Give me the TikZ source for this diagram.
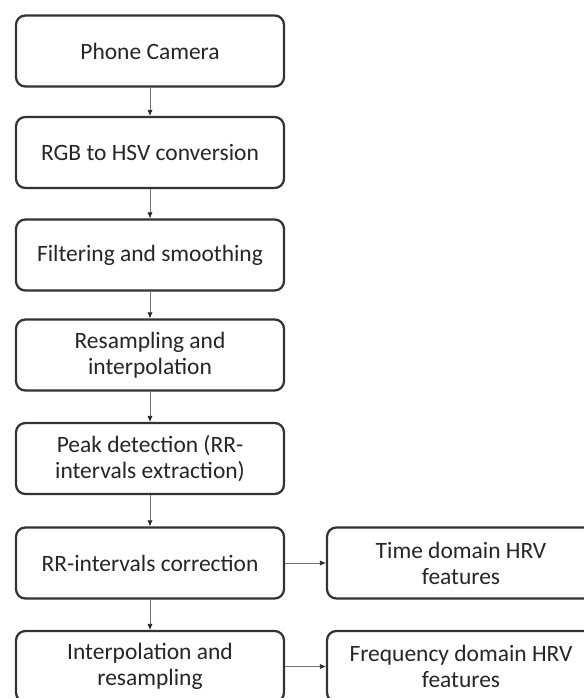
\documentclass[tikz,border=0pt]{standalone}
\usepackage{fontspec}
\setmainfont{Carlito}
\usetikzlibrary{arrows.meta}

\tikzset{
  stage/.style={draw=black!80, line width=1.7pt, rounded corners=7pt, fill=white, text=black!85,
    align=center, minimum width=201pt, minimum height=53.25pt, inner sep=2pt,
    font=\fontsize{17.6}{19.5}\selectfont},
  flow/.style={draw=black!55, line width=0.6pt, -{Latex[length=4.5pt,width=4pt,color=black!85]}}
}

\begin{document}
\begin{tikzpicture}[x=0.75pt,y=0.75pt,yscale=-1,xscale=1]
\useasboundingbox (0,0) rectangle (584,698);
\node[stage] (camera) at (150,51) {Phone Camera};
\node[stage] (hsv) at (150,152.5) {RGB to HSV conversion};
\node[stage] (filter) at (150,255) {Filtering and smoothing};
\node[stage] (resample) at (150,355) {Resampling and\\interpolation};
\node[stage] (peak) at (150,458.5) {Peak detection (RR-\\intervals extraction)};
\node[stage] (rrcorr) at (150,563) {RR-intervals correction};
\node[stage] (interp) at (150,666.5) {Interpolation and\\resampling};
\node[stage] (timehrv) at (461,563) {Time domain HRV\\features};
\node[stage] (freqhrv) at (461,666.5) {Frequency domain HRV\\features};
\draw[flow] (camera) -- (hsv);
\draw[flow] (hsv) -- (filter);
\draw[flow] (filter) -- (resample);
\draw[flow] (resample) -- (peak);
\draw[flow] (peak) -- (rrcorr);
\draw[flow] (rrcorr) -- (interp);
\draw[flow] (rrcorr) -- (timehrv);
\draw[flow] (interp) -- (freqhrv);
\end{tikzpicture}
\end{document}
